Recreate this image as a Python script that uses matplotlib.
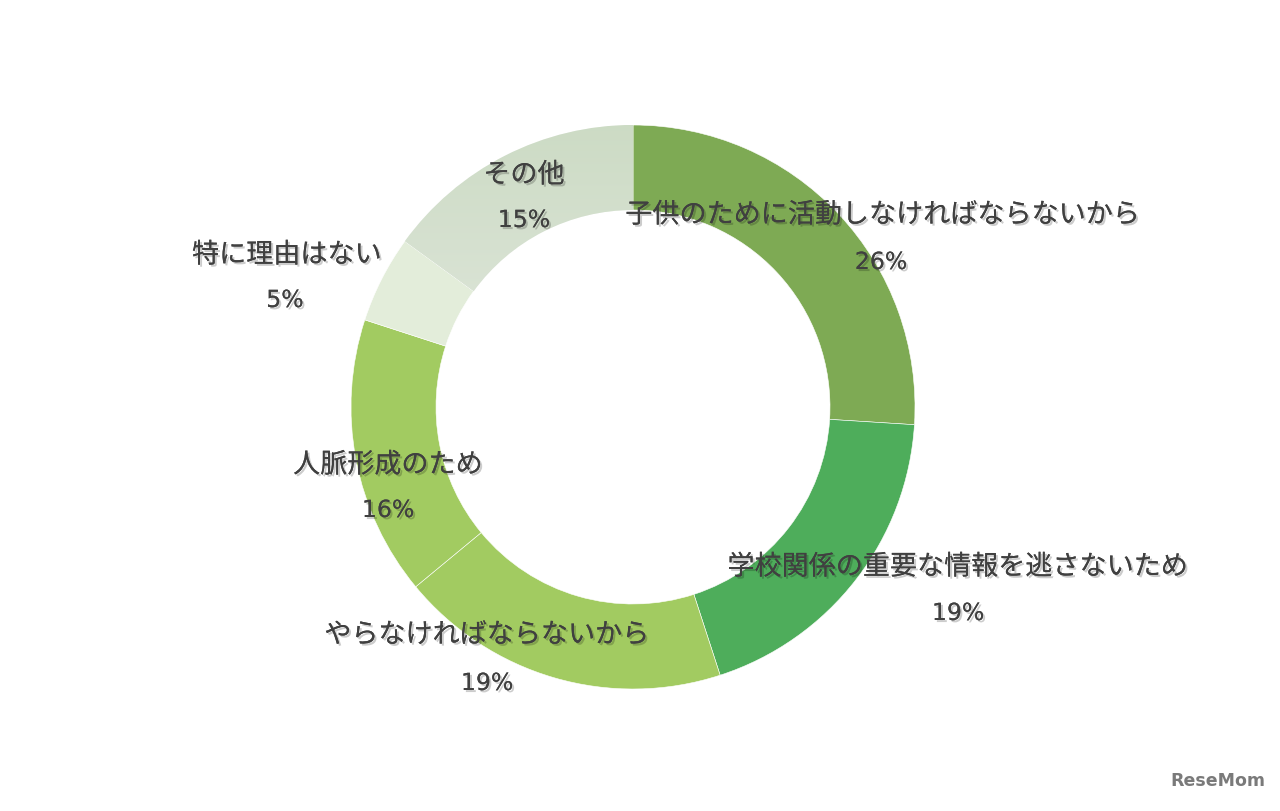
import numpy as np
import matplotlib
matplotlib.use("Agg")
import matplotlib.pyplot as plt
import matplotlib.patheffects as pe

plt.rcParams['font.family'] = ['Noto Sans CJK JP', 'DejaVu Sans']

# data
labels = ["子供のために活動しなければならないから", "学校関係の重要な情報を逃さないため",
          "やらなければならないから", "人脈形成のため", "特に理由はない", "その他"]
shares = [26, 19, 19, 16, 5, 15]
colors = ["#7EAA54", "#4EAD5B", "#A2CB61", "#A2CB61", "#E3EDDA", "#D6E1D0"]

# label positions in pixels from top-left (name line, percent line)
label_pos = [((883, 215), (881, 262)),
             ((958, 567), (958, 613)),
             ((487, 635), (487, 683)),
             ((388, 465), (388, 510)),
             ((287, 255), (285, 300)),
             ((524, 175), (524, 220))]

W, H = 1280, 811
fig = plt.figure(figsize=(12.8, 8.11), dpi=100)
ax = fig.add_axes([0, 0, 1, 1])

cx, cy = 633, H - 407
wedges, _ = ax.pie(shares, colors=colors, radius=282, center=(cx, cy),
                   startangle=90, counterclock=False,
                   wedgeprops=dict(width=85, edgecolor="white", linewidth=0.4))

ax.set_xlim(0, W)
ax.set_ylim(0, H)
ax.set_aspect("equal")
ax.axis("off")

# vertical gradient for "その他"
grad = np.linspace(0, 1, 256).reshape(-1, 1)
top = np.array(matplotlib.colors.to_rgb("#CCDBC4"))
bot = np.array(matplotlib.colors.to_rgb("#E2E8DF"))
img = top + (bot - top) * grad[:, :, None]
im = ax.imshow(img, extent=(cx - 290, cx + 10, cy - 10, cy + 290), origin="upper",
               aspect="auto", zorder=wedges[5].get_zorder() + 0.1)
im.set_clip_path(wedges[5])

shadow = [pe.withSimplePatchShadow(offset=(1.5, -1.5), shadow_rgbFace="#000000", alpha=0.2),
          pe.Normal()]
for name, pct, (p1, p2) in zip(labels, shares, label_pos):
    ax.text(p1[0], H - p1[1], name, ha="center", va="center", fontsize=19.5,
            color="#404040", path_effects=shadow, zorder=5)
    ax.text(p2[0], H - p2[1], f"{pct}%", ha="center", va="center", fontsize=17,
            color="#404040", path_effects=shadow, zorder=5,
            family=["Verdana", "DejaVu Sans"])

# logo
ax.text(1218, H - 781, "ReseMom", ha="center", va="center", fontsize=12.5,
        fontweight="bold", color="#7a7a7a", family="DejaVu Sans", zorder=5)

fig.savefig("out.png", dpi=100)
